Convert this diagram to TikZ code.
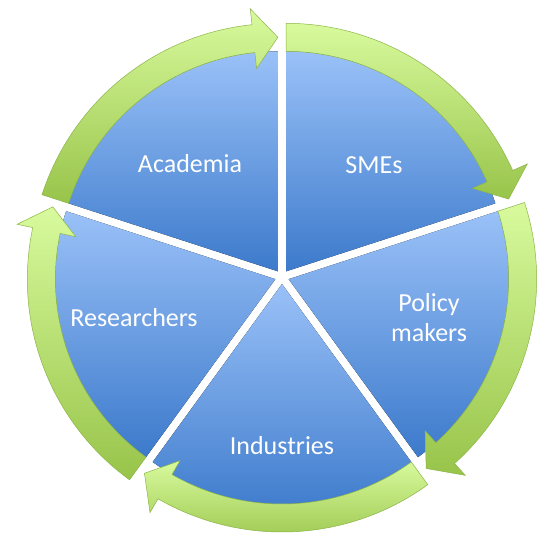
\documentclass[tikz,border=0pt]{standalone}
\usepackage{fontspec}
\setmainfont{Carlito}
\usepackage{tikz}

\definecolor{segtop}{RGB}{154,193,248}
\definecolor{segbot}{RGB}{60,122,203}
\definecolor{arrtop}{RGB}{216,250,157}
\definecolor{arrbot}{RGB}{152,196,74}
\definecolor{arrline}{RGB}{140,180,72}

\tikzset{
  segment/.style={top color=segtop, bottom color=segbot},
  cyclearrow/.style={top color=arrtop, bottom color=arrbot, draw=arrline, line width=0.5pt},
  seglabel/.style={text=white, align=center, font=\fontsize{26}{30}\selectfont}
}

\begin{document}
\begin{tikzpicture}[x=1pt, y=1pt]
      \useasboundingbox (-282,-261) rectangle (257,277);
      \foreach \s/\e in {162/90, 90/18, 18/-54, -54/-126, 234/162} {
        \pgfmathsetmacro\m{(\s+\e)/2}
        \begin{scope}[shift={(\m:7)}]
          \fill[segment] (0,0) -- (\s:220) arc[start angle=\s, end angle=\e, radius=220] -- cycle;
        \end{scope}
      }
      \foreach \s/\e in {162/90, 90/18, 18/-54, -54/-126, 234/162} {
        \pgfmathsetmacro\m{(\s+\e)/2}
        \begin{scope}[shift={(\m:7)}]
          \draw[cyclearrow] (\s:220) arc[start angle=\s, end angle=\e+6, radius=220] -- ({\e+6}:204) -- (\e:234) -- ({\e+6}:264) -- ({\e+6}:248) arc[start angle=\e+6, end angle=\s, radius=248] -- cycle;
        \end{scope}
      }
      \node[seglabel] (academia) at (-92,113) {Academia};
      \node[seglabel] (smes) at (92,112) {SMEs};
      \node[seglabel] (policy) at (147,-41) {Policy\\makers};
      \node[seglabel] (industries) at (0,-169) {Industries};
      \node[seglabel] (researchers) at (-148,-41) {Researchers};
    \end{tikzpicture}
\end{document}
